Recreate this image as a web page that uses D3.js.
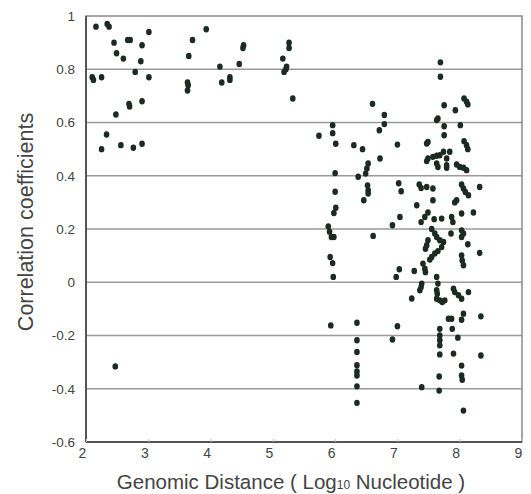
<!DOCTYPE html>
<html><head><meta charset="utf-8">
<script src="https://cdn.jsdelivr.net/npm/d3@7/dist/d3.min.js"></script>
<style>body{margin:0;background:#fff}svg{display:block}</style>
</head><body><svg id="c" width="531" height="494"></svg>
<script>
const xTicks = [2,3,4,5,6,7,8,9];
const yTicks = [-0.6,-0.4,-0.2,0,0.2,0.4,0.6,0.8,1];
const yTickLabels = ["-0.6","-0.4","-0.2","0","0.2","0.4","0.6","0.8","1"];
const xTitle = "Genomic Distance ( Log";
const xTitleSub = "10";
const xTitleEnd = " Nucleotide )";
const yTitle = "Correlation coefficients";

const distX = [2.16,2.34,2.37,3.01,2.45,2.67,2.71,2.90,2.49,2.60,2.88,2.79,2.10,2.12,2.25,3.01,2.69,2.70,2.90,2.48,2.33,2.25,2.56,2.76,2.90,2.47,
3.71,3.93,3.65,3.63,3.64,3.63,
4.15,4.18,4.31,4.31,4.46,4.53,4.52,
5.26,5.26,5.16,5.22,5.21,5.18,5.32,
5.96,5.96,5.74,6.01,6.00,6.00,6.01,5.98,5.89,5.91,5.94,5.98,5.92,5.96,5.97,5.93,
6.30,6.44,6.53,6.51,6.49,6.37,6.52,6.53,6.53,6.46,6.61,6.72,6.60,6.79,6.79,6.71,
6.35,6.35,6.35,6.35,6.35,6.35,6.35,6.35,
7.00,7.02,7.06,7.04,6.92,7.03,6.98,7.00,6.92,7.23,7.27,
7.31,7.35,7.38,7.47,7.57,7.57,7.49,7.44,7.38,7.59,7.71,7.87,8.03,8.22,8.03,8.06,8.09,8.14,8.32,7.92,7.95,
7.49,7.47,7.57,7.63,7.68,7.74,7.84,7.79,7.63,7.65,7.79,7.79,7.95,8.00,8.06,8.11,7.49,7.47,8.07,8.11,8.13,
8.01,7.65,7.63,7.75,7.75,7.75,7.93,8.07,8.11,8.13,7.69,7.69,
7.89,7.55,7.60,8.03,8.06,8.03,7.86,8.13,7.49,7.47,7.45,7.74,7.71,7.65,7.60,7.55,7.52,7.63,7.68,8.32,8.03,8.04,8.06,7.41,7.44,7.45,7.63,
7.39,7.38,7.36,7.65,7.63,7.64,7.90,7.92,7.98,8.03,8.14,7.63,7.68,7.76,7.72,
8.06,8.03,7.82,7.87,8.34,7.88,7.68,7.68,7.68,7.68,7.68,7.97,7.90,8.34,8.03,8.03,8.04,7.67,7.39,7.67,8.06];

const corrY = [0.96,0.97,0.96,0.94,0.90,0.91,0.91,0.89,0.86,0.84,0.83,0.79,0.77,0.76,0.77,0.77,0.67,0.66,0.68,0.63,0.555,0.50,0.515,0.505,0.52,-0.316,
0.91,0.95,0.85,0.75,0.74,0.72,
0.81,0.75,0.77,0.76,0.82,0.89,0.88,
0.90,0.88,0.84,0.81,0.80,0.79,0.69,
0.59,0.56,0.55,0.52,0.41,0.34,0.28,0.26,0.21,0.19,0.17,0.17,0.095,0.072,0.02,-0.162,
0.515,0.50,0.446,0.427,0.408,0.396,0.364,0.346,0.333,0.308,0.174,0.465,0.67,0.628,0.594,0.571,
-0.152,-0.218,-0.262,-0.312,-0.335,-0.350,-0.391,-0.453,
0.517,0.372,0.342,0.245,0.214,0.049,0.020,-0.165,-0.215,-0.061,0.042,
0.289,0.367,0.354,0.358,0.352,0.308,0.262,0.245,0.226,0.237,0.239,0.245,0.258,0.262,0.367,0.352,0.339,0.327,0.358,0.30,0.308,
0.465,0.455,0.471,0.475,0.477,0.49,0.49,0.465,0.446,0.433,0.44,0.43,0.442,0.433,0.43,0.421,0.527,0.521,0.53,0.515,0.50,
0.59,0.615,0.609,0.586,0.552,0.665,0.646,0.69,0.678,0.668,0.826,0.772,
0.226,0.20,0.183,0.195,0.183,0.17,0.183,0.143,0.158,0.139,0.126,0.151,0.132,0.117,0.108,0.095,0.085,0.17,0.158,0.11,0.101,0.082,0.064,0.07,0.051,0.038,0.02,
-0.005,-0.018,-0.03,-0.005,-0.03,-0.043,-0.024,-0.037,-0.049,-0.062,-0.037,-0.062,-0.068,-0.068,-0.074,
-0.118,-0.141,-0.137,-0.137,-0.128,-0.175,-0.175,-0.20,-0.218,-0.237,-0.271,-0.208,-0.268,-0.275,-0.313,-0.35,-0.366,-0.354,-0.394,-0.407,-0.482];

const svg = d3.select("#c");
const L = 86, R = 522, T = 16, B = 442;
const x = d3.scaleLinear().domain([2,9]).range([L,R]);
const y = d3.scaleLinear().domain([-0.6,1]).range([B,T]);
const FONT = "Liberation Sans, Arial, sans-serif";

// gridlines
svg.append("g").selectAll("line").data(yTicks.filter(v=>v>-0.6 && v<1)).join("line")
  .attr("x1",L).attr("x2",R).attr("y1",d=>y(d)).attr("y2",d=>y(d))
  .attr("stroke","#9a9a9a").attr("stroke-width",1.3);

// frame
svg.append("rect").attr("x",L).attr("y",T).attr("width",R-L).attr("height",B-T)
  .attr("fill","none").attr("stroke","#8a8a8a").attr("stroke-width",1.5);
svg.append("line").attr("x1",L).attr("x2",L).attr("y1",T).attr("y2",B).attr("stroke","#555").attr("stroke-width",2);
svg.append("line").attr("x1",L).attr("x2",R).attr("y1",B).attr("y2",B).attr("stroke","#555").attr("stroke-width",2);

// x axis
const xa = svg.append("g").attr("transform",`translate(0,${B})`)
  .call(d3.axisBottom(x).tickValues(xTicks).tickSize(-3).tickPadding(6).tickFormat(d3.format("d")));
xa.select(".domain").remove();
xa.selectAll("line").attr("stroke","#bbb");
xa.selectAll("text").attr("font-family",FONT).attr("font-size",14).attr("fill","#444").attr("dx",-4);

// y axis
const ya = svg.append("g").attr("transform",`translate(${L},0)`)
  .call(d3.axisLeft(y).tickValues(yTicks).tickSize(0).tickPadding(11).tickFormat((d,i)=>yTickLabels[i]));
ya.select(".domain").remove();
ya.selectAll("text").attr("font-family",FONT).attr("font-size",13.5).attr("fill","#444");

// points
const pts = distX.map((d,i)=>({x:d,y:corrY[i]}));
svg.append("g").selectAll("ellipse").data(pts).join("ellipse")
  .attr("cx",d=>x(d.x)).attr("cy",d=>y(d.y)).attr("rx",2.8).attr("ry",3.2)
  .attr("fill","#1b2a22");

// titles
const xt = svg.append("text").attr("x",291).attr("y",489).attr("text-anchor","middle")
  .attr("font-family",FONT).attr("font-size",20.5).attr("fill","#444");
xt.append("tspan").text(xTitle);
xt.append("tspan").attr("font-size",12).text(xTitleSub);
xt.append("tspan").text(xTitleEnd);

svg.append("text").attr("transform","translate(33,222) rotate(-90)").attr("text-anchor","middle")
  .attr("font-family",FONT).attr("font-size",21.5).attr("fill","#444")
  .text(yTitle);
</script></body></html>
